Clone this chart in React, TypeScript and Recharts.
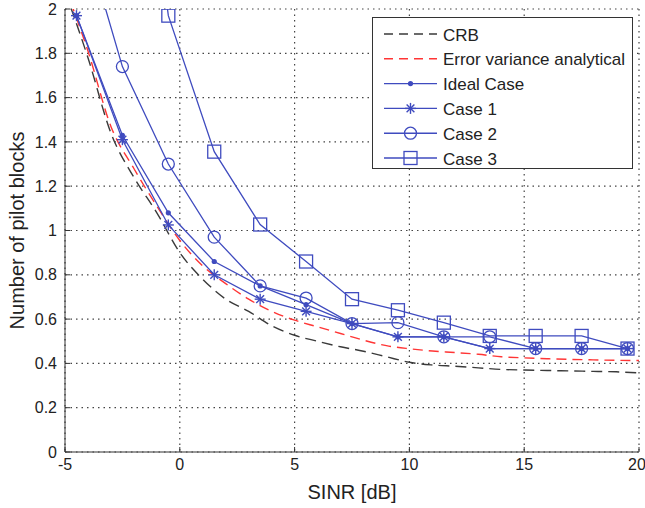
import { LineChart, Line, XAxis, YAxis, CartesianGrid } from "recharts"

// SINR points of the simulated cases (dB)
const sinrPoints = [-4.5, -2.5, -0.5, 1.5, 3.5, 5.5, 7.5, 9.5, 11.5, 13.5, 15.5, 17.5, 19.5]
const idealCase = [1.97, 1.43, 1.08, 0.86, 0.75, 0.665, 0.58, 0.52, 0.52, 0.467, 0.467, 0.467, 0.467]
const case1 = [1.97, 1.41, 1.025, 0.8, 0.69, 0.635, 0.58, 0.52, 0.52, 0.467, 0.467, 0.467, 0.467]
const case2 = [2.45, 1.74, 1.3, 0.97, 0.75, 0.695, 0.58, 0.584, 0.52, 0.52, 0.467, 0.467, 0.467]
const case3 = [6.0, 3.6, 1.97, 1.356, 1.027, 0.86, 0.69, 0.64, 0.584, 0.524, 0.524, 0.524, 0.467]

// analytical curves, 1 dB steps
const sinrFine = [-5, -4, -3, -2, -1, 0, 1, 2, 3, 4, 5, 6, 7, 8, 9, 10, 11, 12, 13, 14, 15, 16, 17, 18, 19, 20]
const crb = [2.08, 1.78, 1.44, 1.24, 1.08, 0.9, 0.78, 0.69, 0.635, 0.57, 0.527, 0.5, 0.475, 0.455, 0.43, 0.405, 0.393, 0.387, 0.38, 0.373, 0.37, 0.368, 0.366, 0.364, 0.362, 0.357]
const errVar = [2.1, 1.81, 1.47, 1.28, 1.11, 0.955, 0.84, 0.76, 0.69, 0.635, 0.595, 0.565, 0.535, 0.505, 0.48, 0.466, 0.456, 0.449, 0.441, 0.43, 0.425, 0.421, 0.418, 0.416, 0.414, 0.413]

const xTicks = [-5, 0, 5, 10, 15, 20]
const yTicks = [0, 0.2, 0.4, 0.6, 0.8, 1, 1.2, 1.4, 1.6, 1.8, 2]

const BLUE = "#3f4bbf"
const RED = "#ff3535"
const GREY = "#3a3a3a"
const FONT = "'Liberation Sans', Arial, sans-serif"

const toPoints = (xs: number[], ys: number[]) => xs.map((x, i) => ({ x, y: ys[i] }))

type Marker = "dot" | "star" | "circle" | "square"

function drawMarker(kind: Marker, cx: number, cy: number, key?: string | number) {
  if (kind === "dot") return <circle key={key} cx={cx} cy={cy} r={2.6} fill={BLUE} stroke="none" />
  if (kind === "circle") return <circle key={key} cx={cx} cy={cy} r={6} fill="none" stroke={BLUE} strokeWidth={1.3} />
  if (kind === "square") return <rect key={key} x={cx - 6.5} y={cy - 6.5} width={13} height={13} fill="none" stroke={BLUE} strokeWidth={1.3} />
  const s = 5.5
  const d = 3.9
  return (
    <g key={key} stroke={BLUE} strokeWidth={1.4}>
      <line x1={cx - s} y1={cy} x2={cx + s} y2={cy} />
      <line x1={cx} y1={cy - s} x2={cx} y2={cy + s} />
      <line x1={cx - d} y1={cy - d} x2={cx + d} y2={cy + d} />
      <line x1={cx - d} y1={cy + d} x2={cx + d} y2={cy - d} />
    </g>
  )
}

const markerDot = (kind: Marker) => (props: any) => {
  const { cx, cy, index } = props
  if (cx == null || cy == null) return <g key={index} />
  return drawMarker(kind, cx, cy, index)
}

const legendRows: { label: string; color: string; dashed?: boolean; marker?: Marker }[] = [
  { label: "CRB", color: GREY, dashed: true },
  { label: "Error variance analytical", color: RED, dashed: true },
  { label: "Ideal Case", color: BLUE, marker: "dot" },
  { label: "Case 1", color: BLUE, marker: "star" },
  { label: "Case 2", color: BLUE, marker: "circle" },
  { label: "Case 3", color: BLUE, marker: "square" },
]

function LegendBox() {
  return (
    <svg
      width={261}
      height={152}
      style={{ position: "absolute", left: 372, top: 17, fontFamily: FONT }}
    >
      <rect x={0.5} y={0.5} width={260} height={151} fill="#fff" stroke="#333" strokeWidth={1} />
      {legendRows.map((row, i) => {
        const y = 17 + i * 24.8
        return (
          <g key={row.label}>
            <line
              x1={12}
              y1={y}
              x2={65}
              y2={y}
              stroke={row.color}
              strokeWidth={1.4}
              strokeDasharray={row.dashed ? "9 6" : undefined}
            />
            {row.marker && drawMarker(row.marker, 38.5, y)}
            <text x={71} y={y + 1} dominantBaseline="central" fontSize={17} fill="#222" textLength={row.label === "Error variance analytical" ? 182 : undefined}>
              {row.label}
            </text>
          </g>
        )
      })}
    </svg>
  )
}

export default function App() {
  const axisLine = { stroke: "#333", strokeWidth: 1 }
  const tickStyle = { fill: "#222", fontSize: 16, fontFamily: FONT }
  return (
    <div style={{ position: "absolute", left: 0, top: 0, width: 645, height: 508, background: "#fff" }}>
      <LineChart width={645} height={508} margin={{ top: 9, right: 6, bottom: 0, left: 0 }}>
        <CartesianGrid strokeDasharray="1.5 4" stroke="#444" strokeWidth={1.2} />
        <XAxis
          type="number"
          dataKey="x"
          domain={[-5, 20]}
          ticks={xTicks}
          allowDataOverflow
          height={56}
          axisLine={axisLine}
          tickLine={{ stroke: "#333" }}
          tickSize={-5}
          tickMargin={12}
          tick={tickStyle}
          label={{ value: "SINR [dB]", position: "insideBottom", offset: 9, fill: "#222", fontSize: 20, fontFamily: FONT }}
        />
        <XAxis
          xAxisId="top"
          orientation="top"
          type="number"
          dataKey="x"
          domain={[-5, 20]}
          ticks={xTicks}
          height={0}
          axisLine={axisLine}
          tickLine={{ stroke: "#333" }}
          tickSize={-5}
          tickFormatter={() => ""}
        />
        <YAxis
          type="number"
          domain={[0, 2]}
          ticks={yTicks}
          allowDataOverflow
          width={65}
          axisLine={axisLine}
          tickLine={{ stroke: "#333" }}
          tickSize={-5}
          tickMargin={13}
          tick={tickStyle}
          tickFormatter={(v: number) => String(Number(v.toFixed(1)))}
          label={{
            value: "Number of pilot blocks",
            angle: -90,
            position: "insideLeft",
            offset: 17,
            fill: "#222",
            fontSize: 20,
            fontFamily: FONT,
            style: { textAnchor: "middle" },
          }}
        />
        <YAxis
          yAxisId="right"
          orientation="right"
          type="number"
          domain={[0, 2]}
          ticks={yTicks}
          width={0}
          axisLine={axisLine}
          tickLine={{ stroke: "#333" }}
          tickSize={-5}
          tickFormatter={() => ""}
        />
        <Line
          data={toPoints(sinrFine, crb)}
          dataKey="y"
          type="monotone"
          stroke={GREY}
          strokeWidth={1.4}
          strokeDasharray="11 6"
          dot={false}
          isAnimationActive={false}
        />
        <Line
          data={toPoints(sinrFine, errVar)}
          dataKey="y"
          type="monotone"
          stroke={RED}
          strokeWidth={1.4}
          strokeDasharray="10 6"
          dot={false}
          isAnimationActive={false}
        />
        <Line data={toPoints(sinrPoints, idealCase)} dataKey="y" type="linear" stroke={BLUE} strokeWidth={1.3} dot={markerDot("dot")} isAnimationActive={false} />
        <Line data={toPoints(sinrPoints, case1)} dataKey="y" type="linear" stroke={BLUE} strokeWidth={1.3} dot={markerDot("star")} isAnimationActive={false} />
        <Line data={toPoints(sinrPoints, case2)} dataKey="y" type="linear" stroke={BLUE} strokeWidth={1.3} dot={markerDot("circle")} isAnimationActive={false} />
        <Line data={toPoints(sinrPoints, case3)} dataKey="y" type="linear" stroke={BLUE} strokeWidth={1.3} dot={markerDot("square")} isAnimationActive={false} />
      </LineChart>
      <LegendBox />
    </div>
  )
}
